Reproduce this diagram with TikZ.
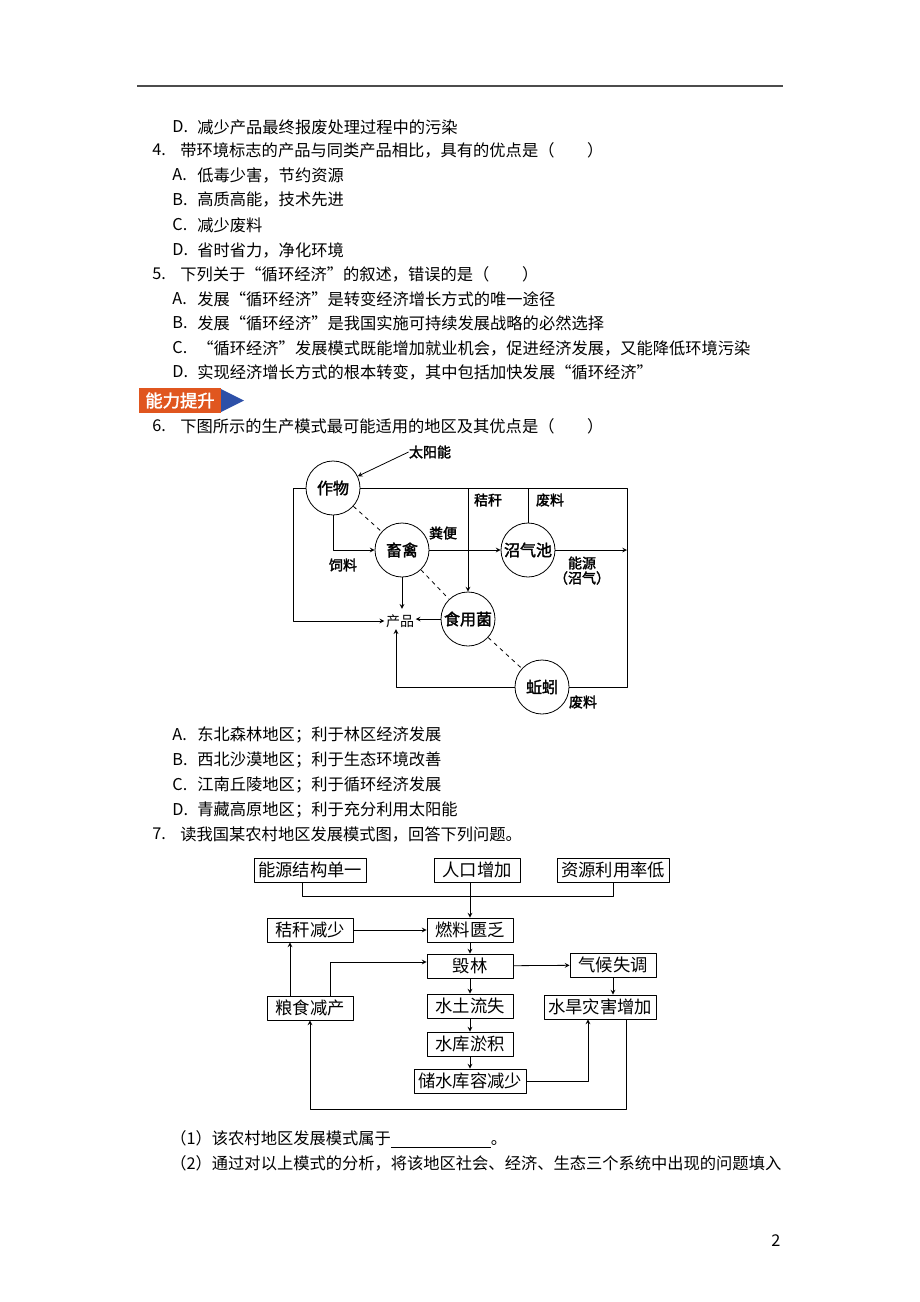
\documentclass[tikz,border=0pt]{standalone}
\usepackage{fontspec}
\setmainfont{Noto Sans CJK SC}[AutoFakeBold=2]
\usetikzlibrary{positioning}
\definecolor{bannerred}{HTML}{E0561F}
\definecolor{bannerblue}{HTML}{2D50A8}
\begin{document}
\begin{tikzpicture}[x=0.75pt, y=-0.75pt, line join=round, >=stealth,
  font=\fontsize{12.2pt}{15pt}\selectfont,
  txt/.style={anchor=west, inner sep=0pt},
  ring/.style={draw, circle, minimum size=40.5pt, inner sep=0pt, font=\fontsize{12pt}{13pt}\selectfont\bfseries},
  lbl/.style={inner sep=0pt, font=\fontsize{10.5pt}{12pt}\selectfont\bfseries},
  box/.style={draw, minimum width=64.5pt, minimum height=18pt, inner xsep=3pt, inner ysep=0pt, font=\fontsize{13pt}{14pt}\selectfont},
  every path/.style={line width=0.6pt}]
\useasboundingbox (0,0) rectangle (920,1302);
% 页眉线
\draw[black!70, line width=0.8pt] (137,86) -- (783,86);
% 第3题末项与第4、5题
\node[txt] (d3) at (172,127) {D.};
\node[txt] (d3t) at (197,127) {减少产品最终报废处理过程中的污染};
\node[txt] (q4) at (152,150) {4.};
\node[txt] (q4t) at (180,150) {带环境标志的产品与同类产品相比，具有的优点是（　　）};
\node[txt] (a4) at (172,175) {A.};
\node[txt] (a4t) at (197,175) {低毒少害，节约资源};
\node[txt] (b4) at (172,200) {B.};
\node[txt] (b4t) at (197,200) {高质高能，技术先进};
\node[txt] (c4) at (172,225) {C.};
\node[txt] (c4t) at (197,225) {减少废料};
\node[txt] (d4) at (172,250) {D.};
\node[txt] (d4t) at (197,250) {省时省力，净化环境};
\node[txt] (q5) at (152,274) {5.};
\node[txt] (q5t) at (180,274) {下列关于“循环经济”的叙述，错误的是（　　）};
\node[txt] (a5) at (172,299) {A.};
\node[txt] (a5t) at (197,299) {发展“循环经济”是转变经济增长方式的唯一途径};
\node[txt] (b5) at (172,323) {B.};
\node[txt] (b5t) at (197,323) {发展“循环经济”是我国实施可持续发展战略的必然选择};
\node[txt] (c5) at (172,348) {C.};
\node[txt] (c5t) at (197,348) {“循环经济”发展模式既能增加就业机会，促进经济发展，又能降低环境污染};
\node[txt] (d5) at (172,372) {D.};
\node[txt] (d5t) at (197,372) {实现经济增长方式的根本转变，其中包括加快发展“循环经济”};
% 能力提升标签
\fill[bannerred] (139,388) rectangle (221,413);
\fill[bannerblue] (221,389) -- (244,400.5) -- (221,412) -- cycle;
\node[text=white, inner sep=0pt, font=\fontsize{13pt}{14pt}\selectfont\bfseries] (nltj) at (180,400.5) {能力提升};
% 第6题
\node[txt] (q6) at (152,426) {6.};
\node[txt] (q6t) at (180,426) {下图所示的生产模式最可能适用的地区及其优点是（　　）};
% 生产模式图
\node[lbl] (sun) at (430,452) {太阳能};
\node[ring] (zw) at (333,488) {作物};
\node[ring] (xq) at (402,550) {畜禽};
\node[ring] (zq) at (528,550) {沼气池};
\node[ring] (ysj) at (468,619) {食用菌};
\node[ring] (qy) at (542,687) {蚯蚓};
\node[inner sep=1pt, font=\fontsize{10.5pt}{12pt}\selectfont] (cp) at (400,621) {产品};
\coordinate (lt) at (293,488);
\coordinate (rt) at (627,488);
\coordinate (jg) at (468,488);
\draw[->] (sun.west) -- (zw);
\draw[->] (zw.west) -- (lt) |- (cp.west);
\draw (zw.east) -- (rt) |- (qy.east);
\draw[->] (jg) -- (ysj.north);
\draw (zq.north) -- (zq.north |- rt);
\draw[->] (zq.east) -- (zq.east -| rt);
\draw[->] (zw.south) |- (xq.west);
\draw[->] (xq) -- (zq);
\draw[->] (xq.south) -- ([yshift=3pt]xq.south |- cp.north);
\draw[->] (ysj.west) -- (ysj.west -| cp.east);
\draw[->] (qy.west) -| ([xshift=-3pt]cp.south);
\draw[dashed] (zw) -- (xq);
\draw[dashed] (xq) -- (ysj);
\draw[dashed] (ysj) -- (qy);
\node[lbl] (sl) at (343,565) {饲料};
\node[lbl] (fb) at (443,533) {粪便};
\node[lbl] (jgl) at (488,500) {秸秆};
\node[lbl] (fl1) at (550,500) {废料};
\node[lbl] (ny) at (582,563) {能源};
\node[lbl] (zqi) at (582,578) {（沼气）};
\node[lbl] (fl2) at (583,702) {废料};
% 选项与第7题
\node[txt] (a6) at (172,735) {A.};
\node[txt] (a6t) at (197,735) {东北森林地区；利于林区经济发展};
\node[txt] (b6) at (172,760) {B.};
\node[txt] (b6t) at (197,760) {西北沙漠地区；利于生态环境改善};
\node[txt] (c6) at (172,785) {C.};
\node[txt] (c6t) at (197,785) {江南丘陵地区；利于循环经济发展};
\node[txt] (d6) at (172,810) {D.};
\node[txt] (d6t) at (197,810) {青藏高原地区；利于充分利用太阳能};
\node[txt] (q7) at (152,834) {7.};
\node[txt] (q7t) at (180,834) {读我国某农村地区发展模式图，回答下列问题。};
% 农村发展模式图
\node[box] (nyjg) at (310,870) {能源结构单一};
\node[box] (rkzj) at (477,870) {人口增加};
\node[box] (zyly) at (613,870) {资源利用率低};
\node[box] (rlfa) at (470,930) {燃料匮乏};
\node[box] (jgjs) at (310,930) {秸秆减少};
\node[box] (hl) at (470,966) {毁林};
\node[box] (qhst) at (613,965) {气候失调};
\node[box] (lsjc) at (310,1008) {粮食减产};
\node[box] (stls) at (470,1006) {水土流失};
\node[box] (shzh) at (600,1007) {水旱灾害增加};
\node[box] (skyj) at (470,1044) {水库淤积};
\node[box] (cskr) at (470,1081) {储水库容减少};
\coordinate (hb) at (470,896);
\coordinate (dl) at (470,1109);
\draw ([xshift=-6pt]nyjg.south) |- (hb) -| (zyly.south);
\draw[->] (rkzj.south -| rlfa) -- (rlfa.north);
\draw[->] (jgjs) -- (rlfa);
\draw[->] (rlfa) -- (hl);
\draw[->] (hl) -- (qhst);
\draw[->] (hl) -- (stls);
\draw[->] (stls) -- (skyj);
\draw[->] (skyj) -- (cskr);
\draw[->] (qhst.south) -- (qhst.south |- shzh.north);
\draw[->] ([xshift=-15pt]lsjc.north) -- ([xshift=-15pt]lsjc.north |- jgjs.south);
\draw[->] ([xshift=15pt]lsjc.north) |- ([yshift=3pt]hl.west);
\draw[->] (cskr.east) -| ([xshift=-9pt]shzh.south);
\draw[->] ([xshift=20pt]shzh.south) -- ([xshift=20pt]shzh.south |- dl) -| (lsjc.south);
% 小题
\node[txt] (s1) at (170,1139) {（1）该农村地区发展模式属于\rule[-2pt]{75pt}{0.4pt}。};
\node[txt] (s2) at (170,1163) {（2）通过对以上模式的分析，将该地区社会、经济、生态三个系统中出现的问题填入};
\node[inner sep=0pt] (pg) at (776,1241) {2};
\end{tikzpicture}
\end{document}
